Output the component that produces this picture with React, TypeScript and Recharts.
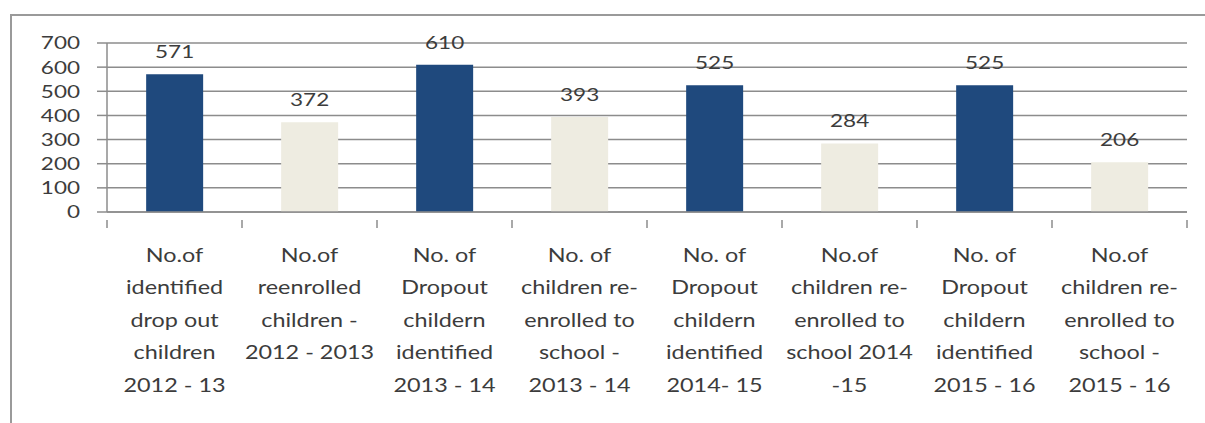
import { BarChart, Bar, XAxis, YAxis, CartesianGrid, Cell, LabelList } from 'recharts'

const categories = [
  ['No.of', 'identified', 'drop out', 'children', '2012 - 13'],
  ['No.of', 'reenrolled', 'children  -', '2012 - 2013'],
  ['No. of', 'Dropout', 'childern', 'identified', '2013 - 14'],
  ['No. of', 'children re-', 'enrolled to', 'school -', '2013 - 14'],
  ['No. of', 'Dropout', 'childern', 'identified', '2014- 15'],
  ['No.of', 'children re-', 'enrolled to', 'school 2014', '-15'],
  ['No. of', 'Dropout', 'childern', 'identified', '2015 - 16'],
  ['No.of', 'children re-', 'enrolled to', 'school -', '2015 - 16'],
]
const values = [571, 372, 610, 393, 525, 284, 525, 206]
const yTicks = [0, 100, 200, 300, 400, 500, 600, 700]

const DARK = '#1f497d'
const LIGHT = '#eeece1'
const TEXT = '#3c3c3c'
const AXIS = '#8c8c8c'
const FONT = 'Lato, "Open Sans", sans-serif'
// the source image is stretched sideways, so the text is widened to match
const STRETCH = 1.25
const LABEL_STRETCH = 1.17

const data = categories.map((lines, i) => ({ name: lines.join(' '), value: values[i] }))

const WIDTH = 1205
const HEIGHT = 423
const PLOT_LEFT = 107
const PLOT_RIGHT = 18
const BAND = (WIDTH - PLOT_LEFT - PLOT_RIGHT) / categories.length

function CategoryTick({ x, y, payload, index }: any) {
  const lines: string[] = categories[index] ?? [String(payload.value)]
  return (
    <g>
      <line x1={x - BAND / 2} x2={x - BAND / 2} y1={y} y2={y + 8} stroke={AXIS} strokeWidth={1.5} />
      {index === categories.length - 1 && (
        <line x1={x + BAND / 2} x2={x + BAND / 2} y1={y} y2={y + 8} stroke={AXIS} strokeWidth={1.5} />
      )}
      <g transform={`translate(${x},${y + 42}) scale(${LABEL_STRETCH},1)`}>
        <text x={0} y={0} textAnchor="middle" fill={TEXT} fontSize={20} fontFamily={FONT}>
          {lines.map((line, i) => (
            <tspan key={i} x={0} dy={i === 0 ? 0 : 32.5}>
              {line}
            </tspan>
          ))}
        </text>
      </g>
    </g>
  )
}

function ValueTick({ x, y, payload }: any) {
  return (
    <g transform={`translate(${x},${y}) scale(${STRETCH},1)`}>
      <text x={0} y={0} dy="0.36em" textAnchor="end" fill={TEXT} fontSize={18} fontFamily={FONT}>
        {payload.value}
      </text>
    </g>
  )
}

function BarValue({ x, y, width, value }: any) {
  return (
    <g transform={`translate(${x + width / 2},${y - 16}) scale(${STRETCH},1)`}>
      <text x={0} y={0} textAnchor="middle" fill={TEXT} fontSize={18} fontFamily={FONT}>
        {value}
      </text>
    </g>
  )
}

export default function App() {
  return (
    <div style={{ position: 'absolute', left: 0, top: 0, width: WIDTH, height: HEIGHT, background: '#fff', overflow: 'hidden' }}>
      <div
        style={{
          position: 'absolute',
          left: 10,
          top: 14,
          width: WIDTH,
          height: HEIGHT,
          borderLeft: '2px solid #9a9a9a',
          borderTop: '2px solid #9a9a9a',
        }}
      />
      <BarChart
        width={WIDTH}
        height={HEIGHT}
        data={data}
        margin={{ top: 43, right: PLOT_RIGHT, left: 0, bottom: 21 }}
        barCategoryGap="29%"
        style={{ position: 'absolute', left: 0, top: 0 }}
      >
        <CartesianGrid vertical={false} stroke={AXIS} strokeWidth={1.5} />
        <XAxis
          dataKey="name"
          interval={0}
          height={190}
          axisLine={{ stroke: AXIS, strokeWidth: 1.5 }}
          tickLine={false}
          tick={<CategoryTick />}
        />
        <YAxis
          width={PLOT_LEFT}
          domain={[0, 700]}
          ticks={yTicks}
          interval={0}
          axisLine={{ stroke: AXIS, strokeWidth: 1.5 }}
          tickLine={{ stroke: AXIS, strokeWidth: 1.5 }}
          tickSize={10}
          tickMargin={17}
          tick={<ValueTick />}
        />
        <Bar dataKey="value" isAnimationActive={false}>
          {data.map((d, i) => (
            <Cell key={d.name} fill={i % 2 === 0 ? DARK : LIGHT} />
          ))}
          <LabelList dataKey="value" content={<BarValue />} />
        </Bar>
      </BarChart>
    </div>
  )
}
